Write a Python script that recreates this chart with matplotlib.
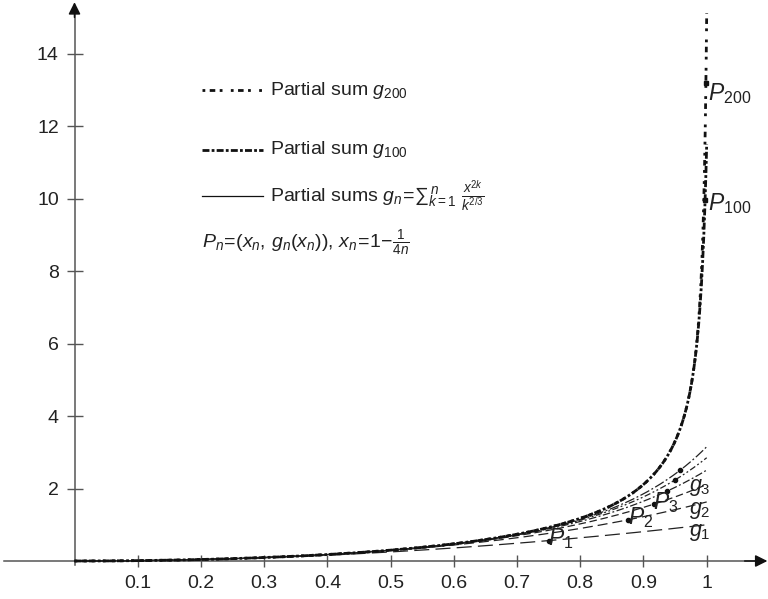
import numpy as np
import matplotlib
matplotlib.use("Agg")
import matplotlib.pyplot as plt
from matplotlib.lines import Line2D

# ---- data (defined by the formula shown on the chart) ----
n_small = [1, 2, 3, 4, 5, 6]          # partial sums g_1 .. g_6
n_large = [100, 200]                  # partial sums g_100, g_200
k_power = 2.0 / 3.0                   # denominator exponent k^(2/3)
x_ticks = [0.1, 0.2, 0.3, 0.4, 0.5, 0.6, 0.7, 0.8, 0.9, 1.0]
x_tick_labels = ["0.1", "0.2", "0.3", "0.4", "0.5", "0.6", "0.7", "0.8", "0.9", "1"]
y_ticks = [2, 4, 6, 8, 10, 12, 14]
y_tick_labels = ["2", "4", "6", "8", "10", "12", "14"]


def g(n, x):
    k = np.arange(1, n + 1)
    x = np.atleast_1d(x)
    return np.sum(x[:, None] ** (2 * k[None, :]) / k[None, :] ** k_power, axis=1)


def x_n(n):
    return 1.0 - 1.0 / (4 * n)


plt.rcParams.update({
    "font.family": ["Liberation Sans", "DejaVu Sans"],
    "mathtext.fontset": "custom",
    "mathtext.rm": "Liberation Sans",
    "mathtext.it": "Liberation Sans:italic",
    "mathtext.bf": "Liberation Sans:bold",
    "font.size": 14,
})

W, H = 768, 599
fig = plt.figure(figsize=(W / 100, H / 100), dpi=100)
ax = fig.add_axes([0, 0, 1, 1])
ax.set_facecolor("white")

px_x0, px_x1 = 74.5, 706.7      # pixel of x=0 and x=1
px_y0, py_unit = 561.0, 36.24   # pixel (from top) of y=0, pixels per unit
sx = px_x1 - px_x0
ax.set_xlim(-px_x0 / sx, (W - px_x0) / sx)
ax.set_ylim(-(H - px_y0) / py_unit, px_y0 / py_unit)

axis_col = "#555555"
for s in ["top", "right"]:
    ax.spines[s].set_visible(False)
ax.spines["left"].set_position(("data", 0))
ax.spines["bottom"].set_position(("data", 0))
ax.spines["left"].set_bounds(-0.12, 15.2)
ax.spines["bottom"].set_bounds(-0.112, 1.08)
for s in ["left", "bottom"]:
    ax.spines[s].set_color(axis_col)
    ax.spines[s].set_linewidth(1.1)

ax.set_xticks(x_ticks)
ax.set_xticklabels(x_tick_labels)
ax.set_yticks(y_ticks)
ax.set_yticklabels(y_tick_labels)
ax.tick_params(axis="x", direction="inout", length=8.6, width=1.0, color=axis_col, pad=5.5)
ax.tick_params(axis="y", direction="inout", length=11.5, width=1.0, color=axis_col, pad=5.5)
ax.tick_params(labelcolor="#222222", labelsize=14)

# arrow heads
ax.annotate("", xy=(1.096, 0), xytext=(1.06, 0),
            arrowprops=dict(arrowstyle="-|>", color="#111111", lw=1.1,
                            mutation_scale=18, shrinkA=0, shrinkB=0))
ax.annotate("", xy=(0, 15.42), xytext=(0, 15.0),
            arrowprops=dict(arrowstyle="-|>", color="#111111", lw=1.1,
                            mutation_scale=18, shrinkA=0, shrinkB=0))

# x grid (denser near 1 so the steep rise is drawn smoothly)
xs = np.unique(np.concatenate([np.linspace(0, 0.99, 1500),
                               1 - np.geomspace(0.01, 1e-5, 600), [1.0]]))

small_styles = [
    (0, (12, 5)),
    (0, (8, 4)),
    (0, (6, 3)),
    (0, (6, 2, 1.5, 2)),
    (0, (5, 2, 1.5, 2, 1.5, 2)),
    (0, (8, 2, 1.5, 2)),
]
for n, ls in zip(n_small, small_styles):
    ax.plot(xs, g(n, xs), color="#222222", lw=0.9, linestyle=ls, zorder=3)
    ax.plot([x_n(n)], g(n, x_n(n)), "o", color="#111111", ms=3.0, zorder=4)

ax.plot(xs, g(100, xs), color="#111111", lw=2.0, linestyle=(0, (2.5, 0.8, 1, 0.8)), zorder=3)
ax.plot(xs, g(200, xs), color="#111111", lw=2.0, linestyle=(0, (1, 1.6, 2, 1.6, 1, 3)), zorder=3)
for n in n_large:
    ax.plot([x_n(n)], g(n, x_n(n)), "s", color="#111111", ms=2.8, zorder=4)

# point / curve labels
lab_kw = dict(fontsize=16.5, color="#222222", va="center", ha="left", zorder=5)
small_kw = dict(lab_kw, fontsize=15.5)
ax.text(1.002, g(200, x_n(200))[0] - 0.3, r"$P_{200}$", **lab_kw)
ax.text(1.002, g(100, x_n(100))[0] - 0.1, r"$P_{100}$", **lab_kw)
ax.text(0.972, 2.02, r"$g_3$", **small_kw)
ax.text(0.972, 1.40, r"$g_2$", **small_kw)
ax.text(0.972, 0.80, r"$g_1$", **small_kw)
ax.text(0.915, 1.62, r"$P_3$", **lab_kw)
ax.text(0.876, 1.20, r"$P_2$", **lab_kw)
ax.text(0.749, 0.62, r"$P_1$", **lab_kw)


# legend (drawn by hand, figure pixel coordinates from top-left)
def fx(px):
    return px / W


def fy(py):
    return 1 - py / H


leg_rows = [
    (90, (0, (1, 1.6, 2, 1.6, 1, 3)), 2.0, r"Partial sum $g_{200}$"),
    (150, (0, (2.5, 0.8, 1, 0.8)), 2.0, r"Partial sum $g_{100}$"),
    (196, "-", 0.9, r"Partial sums $g_n\!=\!{\sum}_{k=1}^{\,n}\ \frac{x^{2k}}{k^{2/3}}$"),
]
for py, ls, lw, txt in leg_rows:
    fig.add_artist(Line2D([fx(202), fx(263)], [fy(py), fy(py)], transform=fig.transFigure,
                          color="#111111", lw=lw, linestyle=ls))
    fig.text(fx(270), fy(py), txt, va="center", ha="left", fontsize=14, color="#222222")

fig.text(fx(202), fy(243), r"$P_n\!=\!(x_n,\,g_n(x_n)),\,x_n\!=\!1\!-\!\frac{1}{4n}$",
         va="center", ha="left", fontsize=14, color="#222222")

fig.savefig("out.png", dpi=100, facecolor="white")
